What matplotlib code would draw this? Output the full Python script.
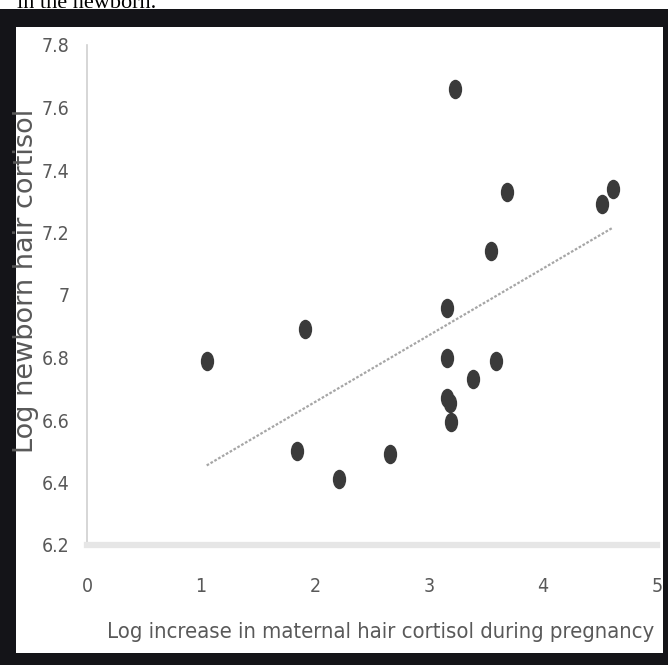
import numpy as np
import matplotlib
matplotlib.use("Agg")
import matplotlib.pyplot as plt
from matplotlib.patches import Rectangle
from matplotlib.path import Path
from matplotlib.transforms import Affine2D

# data
maternal_log_increase = [3.23, 3.68, 4.52, 4.61, 3.54, 3.16, 1.91, 1.05, 3.16,
                         3.59, 3.39, 3.16, 3.18, 3.19, 1.84, 2.66, 2.21]
newborn_log_cortisol = [7.66, 7.33, 7.29, 7.34, 7.14, 6.96, 6.89, 6.79, 6.80,
                        6.79, 6.73, 6.67, 6.655, 6.595, 6.50, 6.49, 6.41]
x_ticks = [0, 1, 2, 3, 4, 5]
y_ticks = [6.2, 6.4, 6.6, 6.8, 7.0, 7.2, 7.4, 7.6, 7.8]
y_tick_labels = ['6.2', '6.4', '6.6', '6.8', '7', '7.2', '7.4', '7.6', '7.8']

grey_txt = '#595959'

W, H = 668, 665
fig = plt.figure(figsize=(W / 100, H / 100), dpi=100)
fig.patch.set_facecolor('white')

# black frame of the screenshot and white inner panel
fig.add_artist(Rectangle((0, 0), 1, 1 - 9 / H, transform=fig.transFigure,
                         facecolor='#141418', edgecolor='none', zorder=0))
fig.add_artist(Rectangle((16 / W, 12 / H), (663 - 16) / W, (653 - 27) / H,
                         transform=fig.transFigure, facecolor='white',
                         edgecolor='none', zorder=0))
fig.text(17 / W, 1 - 7.5 / H, 'in the newborn.', family='Liberation Serif',
         fontsize=16, color='black', va='baseline', ha='left')

ax = fig.add_axes([87 / W, 1 - 545 / H, (657 - 87) / W, (545 - 45) / H])
ax.set_facecolor('none')

# vertically stretched dots
ell = Path.unit_circle().transformed(Affine2D().scale(0.66, 1.0))
ax.plot(maternal_log_increase, newborn_log_cortisol, linestyle='none',
        marker=ell, markersize=13, color='#3a3a3a', clip_on=False, zorder=3)

# linear trend line
k, b = np.polyfit(maternal_log_increase, newborn_log_cortisol, 1)
xs = np.array([min(maternal_log_increase), max(maternal_log_increase)])
ax.plot(xs, k * xs + b, color='#a6a6a6', lw=1.6, linestyle=(0, (1.2, 0.8)),
        zorder=2)

ax.set_xlim(0, 5)
ax.set_ylim(6.2, 7.8)
ax.set_xticks(x_ticks)
ax.set_yticks(y_ticks)
ax.set_yticklabels(y_tick_labels)
ax.tick_params(length=0, colors=grey_txt)
ax.tick_params(axis='y', pad=12.5)
ax.tick_params(axis='x', pad=23)
for lab in ax.get_xticklabels() + ax.get_yticklabels():
    lab.set_family('DejaVu Sans')
    lab.set_stretch('condensed')
    lab.set_fontsize(14)
    lab.set_color(grey_txt)

for s in ['top', 'right']:
    ax.spines[s].set_visible(False)
ax.spines['left'].set_color('#d0d0d0')
ax.spines['left'].set_linewidth(1.2)
ax.spines['bottom'].set_color('#e6e6e6')
ax.spines['bottom'].set_linewidth(4.5)

fig.text(381 / W, 1 - 632 / H, 'Log increase in maternal hair cortisol during pregnancy',
         family='DejaVu Sans', stretch='condensed', fontsize=15.8, color=grey_txt,
         ha='center', va='center')
fig.text(26 / W, 1 - 281 / H, 'Log newborn hair cortisol', family='DejaVu Sans',
         fontsize=19.5, color=grey_txt, rotation=90, ha='center', va='center')

fig.savefig('out.png', dpi=100)
